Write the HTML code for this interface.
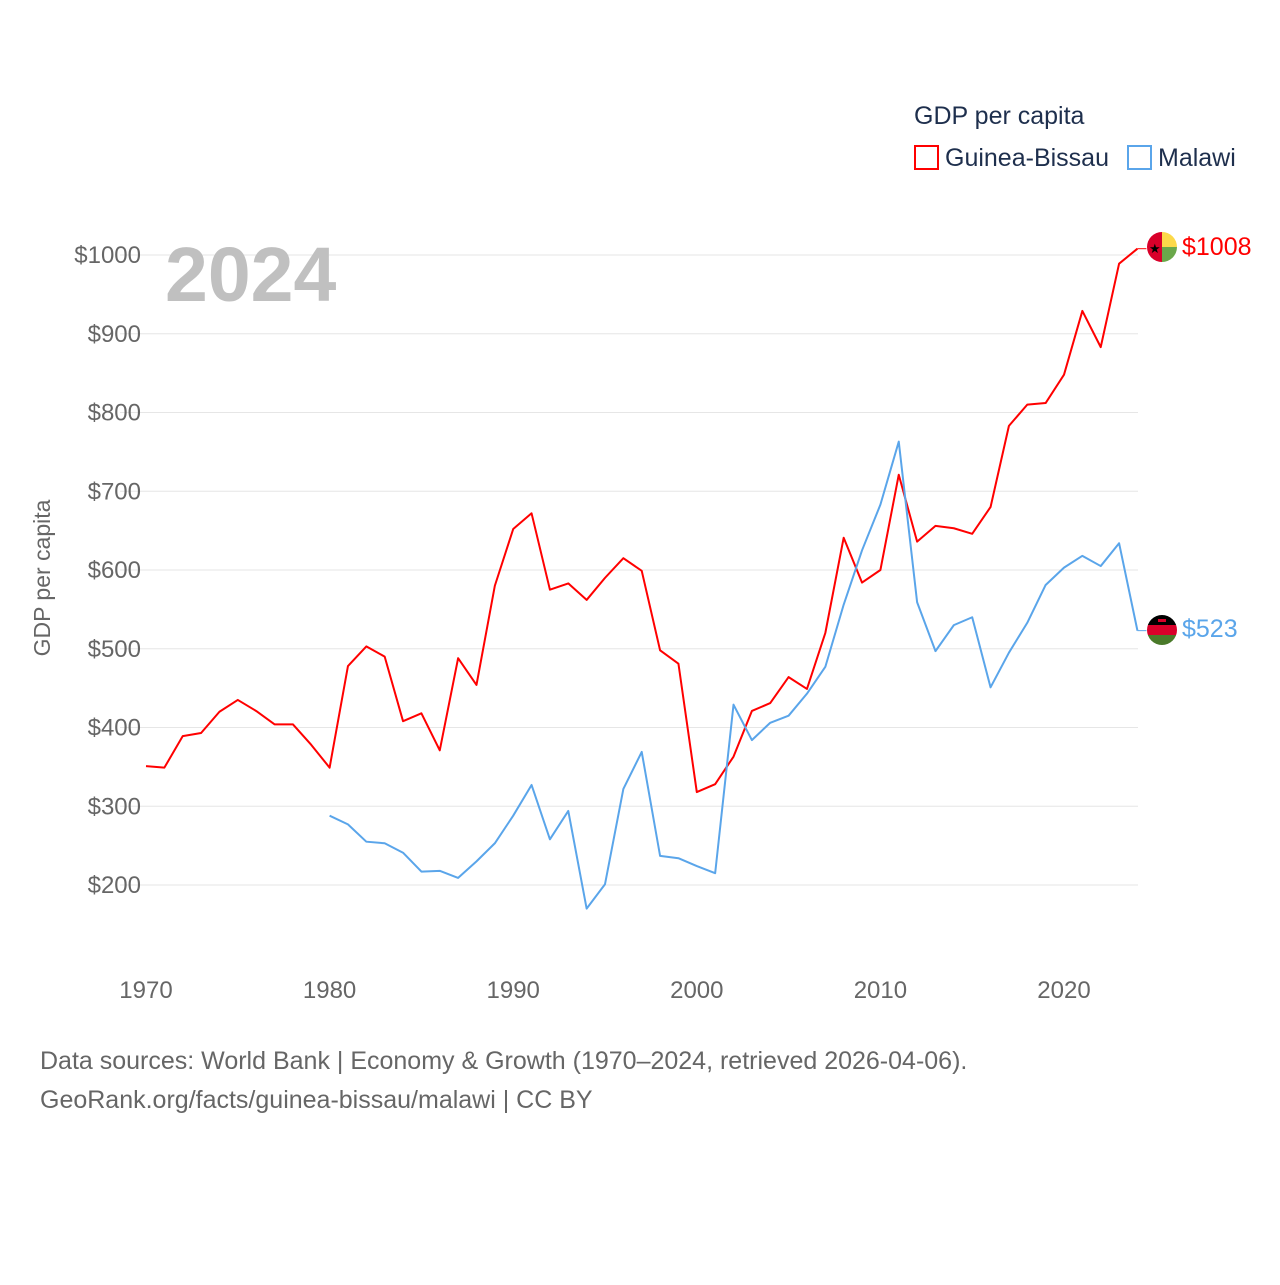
<!DOCTYPE html>
<html><head><meta charset="utf-8"><style>
body{margin:0;background:#fff;font-family:"Liberation Sans",sans-serif}
svg text{font-family:"Liberation Sans",sans-serif}
</style></head><body>
<svg id="chart" width="1280" height="1280" xmlns="http://www.w3.org/2000/svg">
<defs>
<clipPath id="c1"><circle cx="1162" cy="247" r="15"/></clipPath>
<clipPath id="c2"><circle cx="1162" cy="630" r="15"/></clipPath>
</defs>
<g id="grid"></g>
<text x="165" y="301" font-size="77" font-weight="bold" fill="#c0c0c0">2024</text>
<text transform="translate(50,578) rotate(-90)" text-anchor="middle" font-size="23" fill="#666">GDP per capita</text>
<g id="xticks"></g>
<g id="lines"></g>
<g>
<text x="914" y="124" font-size="25" fill="#1e2f4d">GDP per capita</text>
<rect x="915" y="146" width="23" height="23" fill="none" stroke="#f00" stroke-width="2"/>
<text x="945" y="166" font-size="25" fill="#1e2f4d">Guinea-Bissau</text>
<rect x="1128" y="146" width="23" height="23" fill="none" stroke="#5aa5ea" stroke-width="2"/>
<text x="1158" y="166" font-size="25" fill="#1e2f4d">Malawi</text>
</g>
<g clip-path="url(#c1)">
<rect x="1147" y="232" width="15" height="30" fill="#d9002a"/>
<rect x="1162" y="232" width="15" height="15" fill="#fcd94a"/>
<rect x="1162" y="247" width="15" height="15" fill="#6aa84a"/>
<text x="1149" y="253" font-size="13" fill="#000">★</text>
</g>
<g clip-path="url(#c2)">
<rect x="1147" y="615" width="30" height="10" fill="#000"/>
<rect x="1147" y="625" width="30" height="10" fill="#d9002a"/>
<rect x="1147" y="635" width="30" height="10" fill="#4a7a2a"/>
<rect x="1158" y="619" width="8" height="3" fill="#d9002a"/>
</g>
<text x="1182" y="255" font-size="25" fill="#f00">$1008</text>
<text x="1182" y="637" font-size="25" fill="#5aa5ea">$523</text>
<text x="40" y="1069" font-size="25" fill="#666">Data sources: World Bank | Economy &amp; Growth (1970–2024, retrieved 2026-04-06).</text>
<text x="40" y="1108" font-size="25" fill="#666">GeoRank.org/facts/guinea-bissau/malawi | CC BY</text>
</svg>
<script>
const yTicks=[200,300,400,500,600,700,800,900,1000];
const xTicks=[1970,1980,1990,2000,2010,2020];
const gbYears=[];for(let y=1970;y<=2024;y++)gbYears.push(y);
const gbValues=[351,349,389,393,420,435,421,404,404,378,349,478,503,490,408,418,371,488,454,580,652,672,575,583,562,590,615,599,498,481,318,328,363,421,431,464,449,520,641,584,600,721,636,656,653,646,680,783,810,812,848,929,883,989,1008];
const mwYears=[];for(let y=1980;y<=2024;y++)mwYears.push(y);
const mwValues=[288,277,255,253,241,217,218,209,230,253,288,327,258,294,170,201,322,369,237,234,224,215,429,384,406,415,443,477,556,625,683,763,559,497,530,540,451,495,533,581,603,618,605,634,523];
const X=y=>146+(y-1970)*18.36;
const Y=v=>885-(v-200)*0.7875;
const NS='http://www.w3.org/2000/svg';
const grid=document.getElementById('grid');
yTicks.forEach(t=>{
 const l=document.createElementNS(NS,'line');
 l.setAttribute('x1',120);l.setAttribute('x2',1138);l.setAttribute('y1',Y(t));l.setAttribute('y2',Y(t));
 l.setAttribute('stroke','#e6e6e6');l.setAttribute('stroke-width',1);
 
 
 grid.appendChild(l);
 const tx=document.createElementNS(NS,'text');
 tx.setAttribute('x',141);tx.setAttribute('y',Y(t)+8);tx.setAttribute('text-anchor','end');
 tx.setAttribute('font-size','24');tx.setAttribute('fill','#666');tx.textContent='$'+t;
 
 
 grid.appendChild(tx);
});
const xg=document.getElementById('xticks');
xTicks.forEach(t=>{
 const tx=document.createElementNS(NS,'text');
 tx.setAttribute('x',X(t));tx.setAttribute('y',998);tx.setAttribute('text-anchor','middle');
 tx.setAttribute('font-size','24');tx.setAttribute('fill','#666');tx.textContent=t;
 
 
 xg.appendChild(tx);
});
const lg=document.getElementById('lines');
function draw(years,vals,color,name){
 const p=document.createElementNS(NS,'polyline');
 p.setAttribute('points',years.map((y,i)=>X(y)+','+Y(vals[i])).join(' '));
 p.setAttribute('fill','none');p.setAttribute('stroke',color);p.setAttribute('stroke-width',2);p.setAttribute('stroke-linejoin','round');
 
 
 lg.appendChild(p);
 const last=years.length-1;
 const c=document.createElementNS(NS,'polyline');
 const ly=Y(vals[last]);
 c.setAttribute('points',X(years[last])+','+ly+' '+(X(years[last])+9)+','+ly);
 c.setAttribute('fill','none');c.setAttribute('stroke',color);c.setAttribute('stroke-width',1);
 
 
 lg.appendChild(c);
}
draw(gbYears,gbValues,'#f00','line-guinea-bissau');
draw(mwYears,mwValues,'#5aa5ea','line-malawi');
</script>
</body></html>
